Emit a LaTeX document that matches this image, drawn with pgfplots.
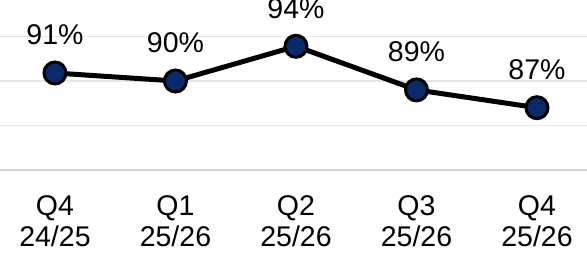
\documentclass[border=0pt]{standalone}
\usepackage{pgfplots}
\pgfplotsset{compat=1.18}
\usepackage{fontspec}
\setmainfont{Liberation Sans}
\definecolor{navy}{HTML}{0A2A6B}
\definecolor{gridc}{HTML}{E6E6E6}
\definecolor{basec}{HTML}{D4D4D4}
\begin{document}
\fontsize{28.5bp}{31bp}\selectfont
\begin{tikzpicture}[font=\fontsize{28.5bp}{31bp}\selectfont]
\begin{axis}[
  scale only axis,
  width=587bp, height=170bp,
  xmin=-0.456, xmax=4.415,
  ymin=80, ymax=99.1,
  axis line style={draw=none},
  xtick={0,1,2,3,4},
  xticklabels={Q4\\24/25, Q1\\25/26, Q2\\25/26, Q3\\25/26, Q4\\25/26},
  xticklabel style={align=center, inner sep=0pt, yshift=-25bp},
  xtick style={draw=none},
  ytick={85,90,95},
  yticklabels={},
  ytick style={draw=none},
  ymajorgrids,
  major grid style={color=gridc, line width=1.3bp},
  extra y ticks={80},
  extra y tick labels={},
  extra y tick style={major grid style={color=basec, line width=2bp}, ytick style={draw=none}},
  clip=false,
]
\addplot[black, line width=5bp, mark=*, mark size=11bp,
  mark options={fill=navy, draw=black, line width=3bp}]
  coordinates {(0,90.9) (1,90.0) (2,93.9) (3,89.0) (4,87.0)};
\addplot[draw=none, mark=none,
  nodes near coords={\pgfplotspointmeta\%},
  point meta=explicit symbolic,
  every node near coord/.style={anchor=base, yshift=28bp, text=black, inner sep=0pt}]
  coordinates {(4,87.0) [87] (3,89.0) [89] (2,93.9) [94] (1,90.0) [90] (0,90.9) [91]};
\end{axis}
\pgfresetboundingbox
\useasboundingbox (current axis.south west) ++(0,-83bp) rectangle (current axis.north east);
\end{tikzpicture}
\end{document}
